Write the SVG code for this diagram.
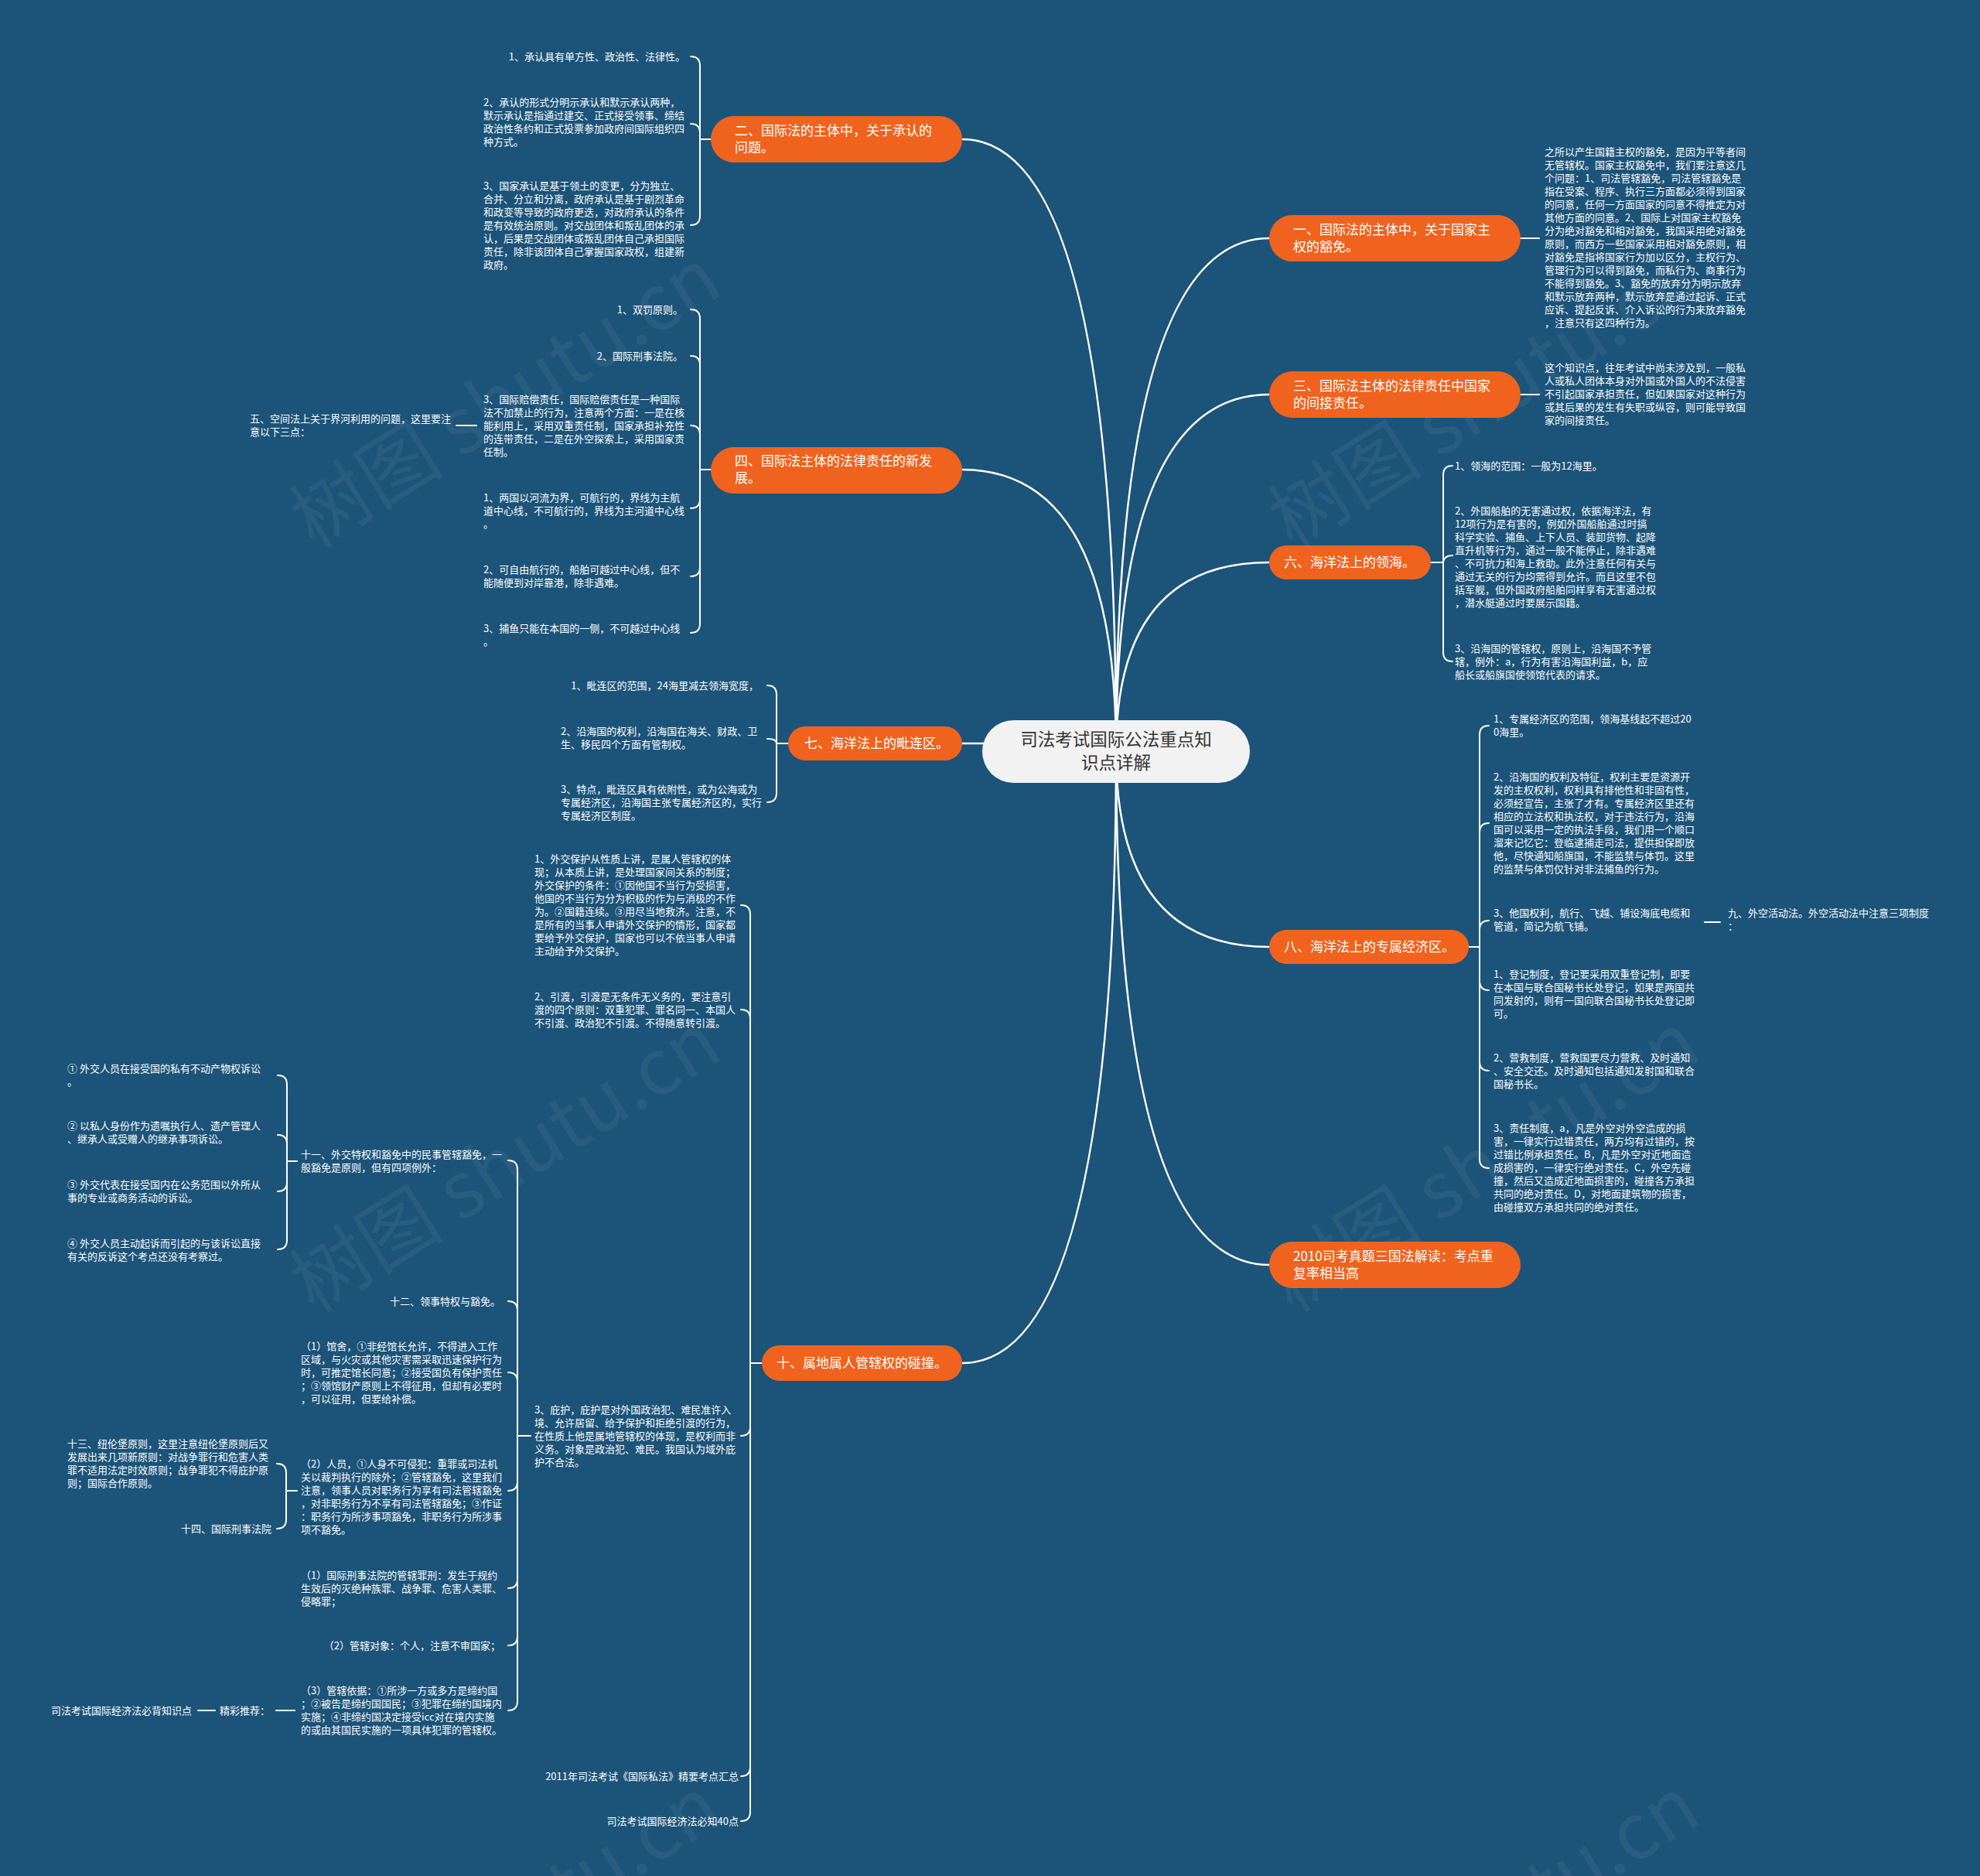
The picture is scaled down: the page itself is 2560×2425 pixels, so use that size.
<svg xmlns="http://www.w3.org/2000/svg" width="2560" height="2425" viewBox="0 0 2560 2425">
<style>
.ln{fill:none;stroke:#ffffff;stroke-width:2;stroke-linecap:round}
.mn{fill:none;stroke:#ffffff;stroke-width:2.5}
.t{font-family:"Noto Sans CJK SC","Noto Sans",sans-serif;font-size:13px;fill:#ffffff}
.e{text-anchor:end}
.o{fill:#f0631f}
.ot{font-family:"Noto Sans CJK SC","Noto Sans",sans-serif;font-size:17px;fill:#ffffff}
.ct{font-family:"Noto Sans CJK SC","Noto Sans",sans-serif;font-size:22.5px;fill:#333333;text-anchor:middle}
.wm{font-family:"Noto Sans CJK SC","Noto Sans",sans-serif;font-size:100px;fill:#ffffff;fill-opacity:0.06;text-anchor:middle}
</style>
<rect x="0" y="0" width="2560" height="2425" fill="#1b5379"/>
<g id="watermarks">
<text class="wm" x="653" y="550" transform="rotate(-32 653 514)">树图 shutu.cn</text>
<text class="wm" x="1918" y="550" transform="rotate(-32 1918 514)">树图 shutu.cn</text>
<text class="wm" x="653" y="1538" transform="rotate(-32 653 1502)">树图 shutu.cn</text>
<text class="wm" x="1918" y="1538" transform="rotate(-32 1918 1502)">树图 shutu.cn</text>
<text class="wm" x="653" y="2526" transform="rotate(-32 653 2490)">树图 shutu.cn</text>
<text class="wm" x="1918" y="2526" transform="rotate(-32 1918 2490)">树图 shutu.cn</text>
</g>
<g id="connectors">
<path class="mn" d="M1443 971Q1443 180 1244 180"/>
<path class="mn" d="M1443 971Q1443 607 1244 607"/>
<path class="mn" d="M1443 971Q1443 961 1244 961"/>
<path class="mn" d="M1443 971Q1443 1762 1244 1762"/>
<path class="mn" d="M1443 971Q1443 308 1641 308"/>
<path class="mn" d="M1443 971Q1443 510 1641 510"/>
<path class="mn" d="M1443 971Q1443 727 1641 727"/>
<path class="mn" d="M1443 971Q1443 1224 1641 1224"/>
<path class="mn" d="M1443 971Q1443 1635 1641 1635"/>
<path class="ln" d="M919 180H905M905 180V85Q905 73 893 73M905 180V172Q905 160 893 160M905 180V279Q905 291 893 291"/>
<path class="ln" d="M919 607H905M905 607V412Q905 400 893 400M905 607V472Q905 460 893 460M905 607V562Q905 550 893 550M905 607V645Q905 657 893 657M905 607V733Q905 745 893 745M905 607V806Q905 818 893 818"/>
<path class="ln" d="M590 550H616"/>
<path class="ln" d="M1019 961H1004M1004 961V898Q1004 886 992 886M1004 961C1004 957 1000 955 992 955M1004 961V1025Q1004 1037 992 1037"/>
<path class="ln" d="M985 1762H970M970 1762V1182Q970 1170 958 1170M970 1762V1317Q970 1305 958 1305M970 1762V1844Q970 1856 958 1856M970 1762V2284Q970 2296 958 2296M970 1762V2342Q970 2354 958 2354"/>
<path class="ln" d="M686 1856H669M669 1856V1512Q669 1500 657 1500M669 1856V1694Q669 1682 657 1682M669 1856V1786Q669 1774 657 1774M669 1856V1915Q669 1927 657 1927M669 1856V2041Q669 2053 657 2053M669 1856V2115Q669 2127 657 2127M669 1856V2199Q669 2211 657 2211"/>
<path class="ln" d="M384 1501H371M371 1501V1402Q371 1390 359 1390M371 1501V1479Q371 1467 359 1467M371 1501V1528Q371 1540 359 1540M371 1501V1603Q371 1615 359 1615"/>
<path class="ln" d="M384 1927H370M370 1927V1904Q370 1892 358 1892M370 1927V1964Q370 1976 358 1976"/>
<path class="ln" d="M256 2211H278M357 2211H381"/>
<path class="ln" d="M1966 308H1990M1966 510H1990"/>
<path class="ln" d="M1850 727H1866M1866 727V614Q1866 602 1878 602M1866 727C1866 722 1870 718 1878 718M1866 727V843Q1866 855 1878 855"/>
<path class="ln" d="M1899 1224H1913M1913 1224V950Q1913 938 1925 938M1913 1224V1076Q1913 1064 1925 1064M1913 1224V1202Q1913 1190 1925 1190M1913 1224V1268Q1913 1280 1925 1280M1913 1224V1372Q1913 1384 1925 1384M1913 1224V1498Q1913 1510 1925 1510"/>
<path class="ln" d="M2204 1192H2224"/>
</g>
<g id="center">
<rect x="1270" y="931" width="346" height="81" rx="40.5" fill="#f2f2f2"/>
<text class="ct" x="1443" y="964">司法考试国际公法重点知</text>
<text class="ct" x="1443" y="994">识点详解</text>
</g>
<g id="n2">
<rect class="o" x="919" y="150" width="325" height="60" rx="30"/>
<text class="ot" x="950" y="175">二、国际法的主体中，关于承认的</text>
<text class="ot" x="950" y="197">问题。</text>
</g>
<g id="n2-leaves">
<text class="t e" x="886" y="78">1、承认具有单方性、政治性、法律性。</text>
<text class="t"><tspan x="625" y="137">2、承认的形式分明示承认和默示承认两种，</tspan><tspan x="625" y="154">默示承认是指通过建交、正式接受领事、缔结</tspan><tspan x="625" y="171">政治性条约和正式投票参加政府间国际组织四</tspan><tspan x="625" y="188">种方式。</tspan></text>
<text class="t"><tspan x="625" y="245">3、国家承认是基于领土的变更，分为独立、</tspan><tspan x="625" y="262">合并、分立和分离，政府承认是基于剧烈革命</tspan><tspan x="625" y="279">和政变等导致的政府更迭，对政府承认的条件</tspan><tspan x="625" y="296">是有效统治原则。对交战团体和叛乱团体的承</tspan><tspan x="625" y="313">认，后果是交战团体或叛乱团体自己承担国际</tspan><tspan x="625" y="330">责任，除非该团体自己掌握国家政权，组建新</tspan><tspan x="625" y="347">政府。</tspan></text>
</g>
<g id="n4">
<rect class="o" x="919" y="578" width="325" height="60" rx="30"/>
<text class="ot" x="950" y="602">四、国际法主体的法律责任的新发</text>
<text class="ot" x="950" y="624">展。</text>
</g>
<g id="n4-leaves">
<text class="t e" x="883" y="405">1、双罚原则。</text>
<text class="t e" x="883" y="465">2、国际刑事法院。</text>
<text class="t"><tspan x="625" y="521">3、国际赔偿责任，国际赔偿责任是一种国际</tspan><tspan x="625" y="538">法不加禁止的行为，注意两个方面：一是在核</tspan><tspan x="625" y="555">能利用上，采用双重责任制，国家承担补充性</tspan><tspan x="625" y="572">的连带责任，二是在外空探索上，采用国家责</tspan><tspan x="625" y="589">任制。</tspan></text>
<text class="t"><tspan x="323" y="546">五、空间法上关于界河利用的问题，这里要注</tspan><tspan x="323" y="563">意以下三点：</tspan></text>
<text class="t"><tspan x="625" y="648">1、两国以河流为界，可航行的，界线为主航</tspan><tspan x="625" y="665">道中心线，不可航行的，界线为主河道中心线</tspan><tspan x="625" y="682">。</tspan></text>
<text class="t"><tspan x="625" y="741">2、可自由航行的，船舶可越过中心线，但不</tspan><tspan x="625" y="758">能随便到对岸靠港，除非遇难。</tspan></text>
<text class="t"><tspan x="625" y="817">3、捕鱼只能在本国的一侧，不可越过中心线</tspan><tspan x="625" y="834">。</tspan></text>
</g>
<g id="n7">
<rect class="o" x="1019" y="939" width="225" height="44" rx="22"/>
<text class="ot" x="1040" y="967">七、海洋法上的毗连区。</text>
</g>
<g id="n7-leaves">
<text class="t e" x="981" y="891">1、毗连区的范围，24海里减去领海宽度，</text>
<text class="t"><tspan x="725" y="950">2、沿海国的权利，沿海国在海关、财政、卫</tspan><tspan x="725" y="967">生、移民四个方面有管制权。</tspan></text>
<text class="t"><tspan x="725" y="1025">3、特点，毗连区具有依附性，或为公海或为</tspan><tspan x="725" y="1042">专属经济区，沿海国主张专属经济区的，实行</tspan><tspan x="725" y="1059">专属经济区制度。</tspan></text>
</g>
<g id="n10">
<rect class="o" x="985" y="1739" width="259" height="46" rx="23"/>
<text class="ot" x="1004" y="1768">十、属地属人管辖权的碰撞。</text>
</g>
<g id="n10-leaves">
<text class="t"><tspan x="691" y="1115">1、外交保护从性质上讲，是属人管辖权的体</tspan><tspan x="691" y="1132">现；从本质上讲，是处理国家间关系的制度；</tspan><tspan x="691" y="1149">外交保护的条件：①因他国不当行为受损害，</tspan><tspan x="691" y="1166">他国的不当行为分为积极的作为与消极的不作</tspan><tspan x="691" y="1183">为。②国籍连续。③用尽当地救济。注意，不</tspan><tspan x="691" y="1200">是所有的当事人申请外交保护的情形，国家都</tspan><tspan x="691" y="1217">要给予外交保护，国家也可以不依当事人申请</tspan><tspan x="691" y="1234">主动给予外交保护。</tspan></text>
<text class="t"><tspan x="691" y="1293">2、引渡，引渡是无条件无义务的，要注意引</tspan><tspan x="691" y="1310">渡的四个原则：双重犯罪、罪名同一、本国人</tspan><tspan x="691" y="1327">不引渡、政治犯不引渡。不得随意转引渡。</tspan></text>
<text class="t"><tspan x="691" y="1827">3、庇护，庇护是对外国政治犯、难民准许入</tspan><tspan x="691" y="1844">境、允许居留、给予保护和拒绝引渡的行为，</tspan><tspan x="691" y="1861">在性质上他是属地管辖权的体现，是权利而非</tspan><tspan x="691" y="1878">义务。对象是政治犯、难民。我国认为域外庇</tspan><tspan x="691" y="1895">护不合法。</tspan></text>
<text class="t e" x="955" y="2301">2011年司法考试《国际私法》精要考点汇总</text>
<text class="t e" x="955" y="2359">司法考试国际经济法必知40点</text>
<text class="t"><tspan x="389" y="1497">十一、外交特权和豁免中的民事管辖豁免，一</tspan><tspan x="389" y="1514">般豁免是原则，但有四项例外：</tspan></text>
<text class="t e" x="647" y="1687">十二、领事特权与豁免。</text>
<text class="t"><tspan x="389" y="1745">（1）馆舍，①非经馆长允许，不得进入工作</tspan><tspan x="389" y="1762">区域，与火灾或其他灾害需采取迅速保护行为</tspan><tspan x="389" y="1779">时，可推定馆长同意；②接受国负有保护责任</tspan><tspan x="389" y="1796">；③领馆财产原则上不得征用，但却有必要时</tspan><tspan x="389" y="1813">，可以征用，但要给补偿。</tspan></text>
<text class="t"><tspan x="389" y="1897">（2）人员，①人身不可侵犯：重罪或司法机</tspan><tspan x="389" y="1914">关以裁判执行的除外；②管辖豁免，这里我们</tspan><tspan x="389" y="1931">注意，领事人员对职务行为享有司法管辖豁免</tspan><tspan x="389" y="1948">，对非职务行为不享有司法管辖豁免；③作证</tspan><tspan x="389" y="1965">：职务行为所涉事项豁免，非职务行为所涉事</tspan><tspan x="389" y="1982">项不豁免。</tspan></text>
<text class="t"><tspan x="389" y="2041">（1）国际刑事法院的管辖罪刑：发生于规约</tspan><tspan x="389" y="2058">生效后的灭绝种族罪、战争罪、危害人类罪、</tspan><tspan x="389" y="2075">侵略罪；</tspan></text>
<text class="t e" x="647" y="2132">（2）管辖对象：个人，注意不审国家；</text>
<text class="t"><tspan x="389" y="2190">（3）管辖依据：①所涉一方或多方是缔约国</tspan><tspan x="389" y="2207">；②被告是缔约国国民；③犯罪在缔约国境内</tspan><tspan x="389" y="2224">实施；④非缔约国决定接受icc对在境内实施</tspan><tspan x="389" y="2241">的或由其国民实施的一项具体犯罪的管辖权。</tspan></text>
<text class="t"><tspan x="87" y="1386">① 外交人员在接受国的私有不动产物权诉讼</tspan><tspan x="87" y="1403">。</tspan></text>
<text class="t"><tspan x="87" y="1460">② 以私人身份作为遗嘱执行人、遗产管理人</tspan><tspan x="87" y="1477">、继承人或受赠人的继承事项诉讼。</tspan></text>
<text class="t"><tspan x="87" y="1536">③ 外交代表在接受国内在公务范围以外所从</tspan><tspan x="87" y="1553">事的专业或商务活动的诉讼。</tspan></text>
<text class="t"><tspan x="87" y="1612">④ 外交人员主动起诉而引起的与该诉讼直接</tspan><tspan x="87" y="1629">有关的反诉这个考点还没有考察过。</tspan></text>
<text class="t"><tspan x="87" y="1871">十三、纽伦堡原则，这里注意纽伦堡原则后又</tspan><tspan x="87" y="1888">发展出来几项新原则：对战争罪行和危害人类</tspan><tspan x="87" y="1905">罪不适用法定时效原则；战争罪犯不得庇护原</tspan><tspan x="87" y="1922">则；国际合作原则。</tspan></text>
<text class="t e" x="351" y="1981">十四、国际刑事法院</text>
<text class="t e" x="248" y="2216">司法考试国际经济法必背知识点</text>
<text class="t" x="284" y="2216">精彩推荐：</text>
</g>
<g id="n1">
<rect class="o" x="1641" y="278" width="325" height="60" rx="30"/>
<text class="ot" x="1672" y="303">一、国际法的主体中，关于国家主</text>
<text class="ot" x="1672" y="325">权的豁免。</text>
</g>
<g id="n1-leaves">
<text class="t"><tspan x="1997" y="201">之所以产生国籍主权的豁免，是因为平等者间</tspan><tspan x="1997" y="218">无管辖权。国家主权豁免中，我们要注意这几</tspan><tspan x="1997" y="235">个问题：1、司法管辖豁免，司法管辖豁免是</tspan><tspan x="1997" y="252">指在受案、程序、执行三方面都必须得到国家</tspan><tspan x="1997" y="269">的同意，任何一方面国家的同意不得推定为对</tspan><tspan x="1997" y="286">其他方面的同意。2、国际上对国家主权豁免</tspan><tspan x="1997" y="303">分为绝对豁免和相对豁免，我国采用绝对豁免</tspan><tspan x="1997" y="320">原则，而西方一些国家采用相对豁免原则，相</tspan><tspan x="1997" y="337">对豁免是指将国家行为加以区分，主权行为、</tspan><tspan x="1997" y="354">管理行为可以得到豁免，而私行为、商事行为</tspan><tspan x="1997" y="371">不能得到豁免。3、豁免的放弃分为明示放弃</tspan><tspan x="1997" y="388">和默示放弃两种，默示放弃是通过起诉、正式</tspan><tspan x="1997" y="405">应诉、提起反诉、介入诉讼的行为来放弃豁免</tspan><tspan x="1997" y="422">，注意只有这四种行为。</tspan></text>
</g>
<g id="n3">
<rect class="o" x="1641" y="480" width="325" height="60" rx="30"/>
<text class="ot" x="1672" y="505">三、国际法主体的法律责任中国家</text>
<text class="ot" x="1672" y="527">的间接责任。</text>
</g>
<g id="n3-leaves">
<text class="t"><tspan x="1997" y="480">这个知识点，往年考试中尚未涉及到，一般私</tspan><tspan x="1997" y="497">人或私人团体本身对外国或外国人的不法侵害</tspan><tspan x="1997" y="514">不引起国家承担责任，但如果国家对这种行为</tspan><tspan x="1997" y="531">或其后果的发生有失职或纵容，则可能导致国</tspan><tspan x="1997" y="548">家的间接责任。</tspan></text>
</g>
<g id="n6">
<rect class="o" x="1641" y="705" width="209" height="44" rx="22"/>
<text class="ot" x="1660" y="733">六、海洋法上的领海。</text>
</g>
<g id="n6-leaves">
<text class="t" x="1881" y="607">1、领海的范围：一般为12海里。</text>
<text class="t"><tspan x="1881" y="665">2、外国船舶的无害通过权，依据海洋法，有</tspan><tspan x="1881" y="682">12项行为是有害的，例如外国船舶通过时搞</tspan><tspan x="1881" y="699">科学实验、捕鱼、上下人员、装卸货物、起降</tspan><tspan x="1881" y="716">直升机等行为，通过一般不能停止，除非遇难</tspan><tspan x="1881" y="733">、不可抗力和海上救助。此外注意任何有关与</tspan><tspan x="1881" y="750">通过无关的行为均需得到允许。而且这里不包</tspan><tspan x="1881" y="767">括军舰，但外国政府船舶同样享有无害通过权</tspan><tspan x="1881" y="784">，潜水艇通过时要展示国籍。</tspan></text>
<text class="t"><tspan x="1881" y="843">3、沿海国的管辖权，原则上，沿海国不予管</tspan><tspan x="1881" y="860">辖，例外：a，行为有害沿海国利益，b，应</tspan><tspan x="1881" y="877">船长或船旗国使领馆代表的请求。</tspan></text>
</g>
<g id="n8">
<rect class="o" x="1641" y="1202" width="258" height="44" rx="22"/>
<text class="ot" x="1660" y="1230">八、海洋法上的专属经济区。</text>
</g>
<g id="n8-leaves">
<text class="t"><tspan x="1931" y="934">1、专属经济区的范围，领海基线起不超过20</tspan><tspan x="1931" y="951">0海里。</tspan></text>
<text class="t"><tspan x="1931" y="1009">2、沿海国的权利及特征，权利主要是资源开</tspan><tspan x="1931" y="1026">发的主权权利，权利具有排他性和非固有性，</tspan><tspan x="1931" y="1043">必须经宣告，主张了才有。专属经济区里还有</tspan><tspan x="1931" y="1060">相应的立法权和执法权，对于违法行为，沿海</tspan><tspan x="1931" y="1077">国可以采用一定的执法手段，我们用一个顺口</tspan><tspan x="1931" y="1094">溜来记忆它：登临逮捕走司法，提供担保即放</tspan><tspan x="1931" y="1111">他，尽快通知船旗国，不能监禁与体罚。这里</tspan><tspan x="1931" y="1128">的监禁与体罚仅针对非法捕鱼的行为。</tspan></text>
<text class="t"><tspan x="1931" y="1185">3、他国权利，航行、飞越、铺设海底电缆和</tspan><tspan x="1931" y="1202">管道，简记为航飞铺。</tspan></text>
<text class="t"><tspan x="2234" y="1185">九、外空活动法。外空活动法中注意三项制度</tspan><tspan x="2234" y="1202">：</tspan></text>
<text class="t"><tspan x="1931" y="1264">1、登记制度，登记要采用双重登记制，即要</tspan><tspan x="1931" y="1281">在本国与联合国秘书长处登记，如果是两国共</tspan><tspan x="1931" y="1298">同发射的，则有一国向联合国秘书长处登记即</tspan><tspan x="1931" y="1315">可。</tspan></text>
<text class="t"><tspan x="1931" y="1372">2、营救制度，营救国要尽力营救、及时通知</tspan><tspan x="1931" y="1389">、安全交还。及时通知包括通知发射国和联合</tspan><tspan x="1931" y="1406">国秘书长。</tspan></text>
<text class="t"><tspan x="1931" y="1463">3、责任制度，a，凡是外空对外空造成的损</tspan><tspan x="1931" y="1480">害，一律实行过错责任，两方均有过错的，按</tspan><tspan x="1931" y="1497">过错比例承担责任。B，凡是外空对近地面造</tspan><tspan x="1931" y="1514">成损害的，一律实行绝对责任。C，外空先碰</tspan><tspan x="1931" y="1531">撞，然后又造成近地面损害的，碰撞各方承担</tspan><tspan x="1931" y="1548">共同的绝对责任。D，对地面建筑物的损害，</tspan><tspan x="1931" y="1565">由碰撞双方承担共同的绝对责任。</tspan></text>
</g>
<g id="n2010">
<rect class="o" x="1641" y="1605" width="325" height="60" rx="30"/>
<text class="ot" x="1672" y="1630">2010司考真题三国法解读：考点重</text>
<text class="ot" x="1672" y="1652">复率相当高</text>
</g>
</svg>
